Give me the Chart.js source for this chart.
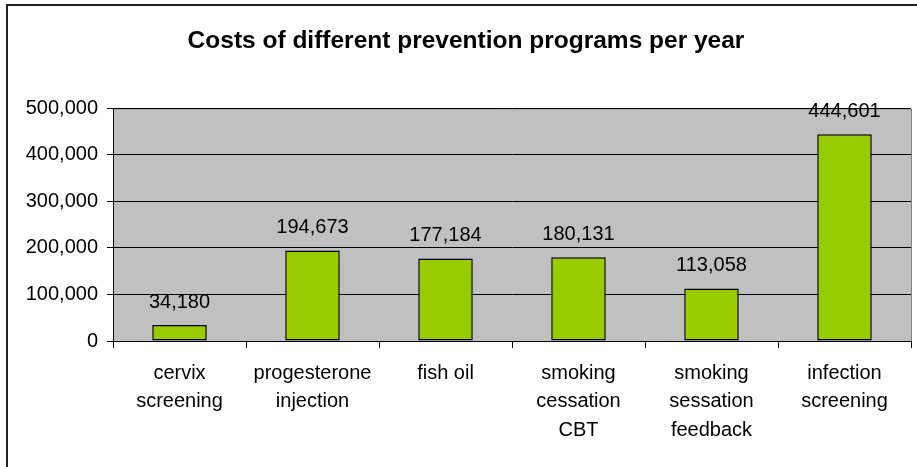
<!DOCTYPE html>
<html>
<head>
<meta charset="utf-8">
<script src="https://cdn.jsdelivr.net/npm/chart.js@4"></script>
<style>
    html, body { margin: 0; padding: 0; background: #fff; }
    canvas { display: block; }
</style>
</head>
<body>
<canvas id="costChart" width="917" height="467"></canvas>
<script>
const programs = [
    ['cervix', 'screening'],
    ['progesterone', 'injection'],
    ['fish oil'],
    ['smoking', 'cessation', 'CBT'],
    ['smoking', 'sessation', 'feedback'],
    ['infection', 'screening']
];
const costs = [34180, 194673, 177184, 180131, 113058, 444601];
const yTicks = [0, 100000, 200000, 300000, 400000, 500000];

const fontFamily = '"Liberation Sans", Arial, sans-serif';

// Gray plot area + outer frame lines
const plotBackground = {
    id: 'plotBackground',
    beforeDraw(chart) {
        const { ctx, chartArea: a } = chart;
        ctx.save();
        ctx.fillStyle = '#fff';
        ctx.fillRect(0, 0, chart.width, chart.height);
        ctx.fillStyle = '#c0c0c0';
        ctx.fillRect(a.left, a.top, a.right - a.left, a.bottom - a.top);
        ctx.strokeStyle = '#808080';
        ctx.lineWidth = 1;
        ctx.beginPath();
        ctx.moveTo(a.left, a.top + 0.5);
        ctx.lineTo(a.right + 0.5, a.top + 0.5);
        ctx.lineTo(a.right + 0.5, a.bottom);
        ctx.stroke();
        // chart frame (only top and left edges are visible in the crop)
        ctx.strokeStyle = '#222';
        ctx.lineWidth = 2;
        ctx.beginPath();
        ctx.moveTo(7, chart.height);
        ctx.lineTo(7, 5);
        ctx.lineTo(chart.width, 5);
        ctx.stroke();
        ctx.restore();
    }
};

// Value labels above bars
const valueLabels = {
    id: 'valueLabels',
    afterDatasetsDraw(chart) {
        const { ctx } = chart;
        const meta = chart.getDatasetMeta(0);
        ctx.save();
        ctx.font = '20px ' + fontFamily;
        ctx.fillStyle = '#000';
        ctx.textAlign = 'center';
        ctx.textBaseline = 'middle';
        meta.data.forEach((bar, i) => {
            ctx.fillText(costs[i].toLocaleString('en-US'), bar.x, bar.y - 23);
        });
        ctx.restore();
    }
};

new Chart(document.getElementById('costChart').getContext('2d'), {
    type: 'bar',
    data: {
        labels: programs,
        datasets: [{
            data: costs,
            backgroundColor: '#99cc00',
            borderColor: '#000',
            borderWidth: 1.5,
            borderSkipped: false,
            barPercentage: 0.41,
            categoryPercentage: 1
        }]
    },
    options: {
        responsive: false,
        animation: false,
        layout: { padding: { left: 21, right: 6, top: 0, bottom: 0 } },
        plugins: {
            legend: { display: false },
            tooltip: { enabled: false },
            title: {
                display: true,
                text: 'Costs of different prevention programs per year',
                color: '#000',
                font: { family: fontFamily, size: 24.5, weight: 'bold' },
                padding: { top: 27, bottom: 52 }
            }
        },
        scales: {
            x: {
                grid: {
                    display: true,
                    drawOnChartArea: false,
                    color: '#000',
                    tickLength: 7,
                    offset: true
                },
                border: { color: '#000', width: 1 },
                ticks: {
                    color: '#000',
                    padding: 11,
                    maxRotation: 0,
                    autoSkip: false,
                    font: { family: fontFamily, size: 20, lineHeight: 1.42 }
                },
                afterFit(scale) { scale.height = 126; }
            },
            y: {
                min: 0,
                max: 500000,
                afterBuildTicks(scale) {
                    scale.ticks = yTicks.map(v => ({ value: v }));
                },
                grid: {
                    color: '#000',
                    lineWidth: 1,
                    tickLength: 6
                },
                border: { color: '#000', width: 1 },
                ticks: {
                    color: '#000',
                    padding: 9,
                    font: { family: fontFamily, size: 20 },
                    callback: v => v.toLocaleString('en-US')
                },
                afterFit(scale) { scale.width = 92; }
            }
        }
    },
    plugins: [plotBackground, valueLabels]
});
</script>
</body>
</html>
